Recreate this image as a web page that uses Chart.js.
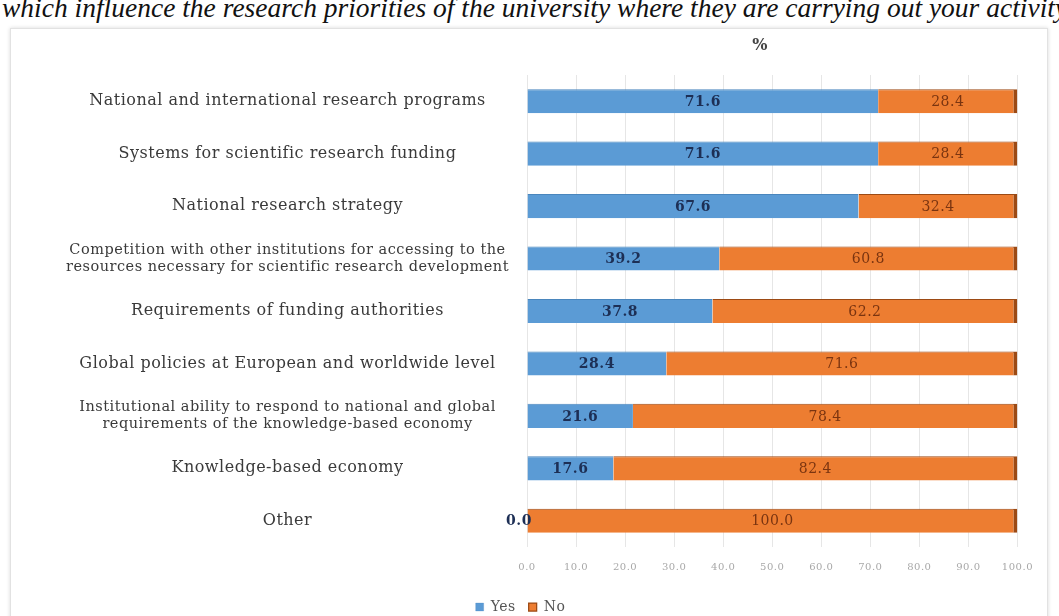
<!DOCTYPE html>
<html>
<head>
<meta charset="utf-8">
<script src="https://cdn.jsdelivr.net/npm/chart.js@4.4.0/dist/chart.umd.min.js"></script>
<style>
  html, body { margin: 0; padding: 0; background: #fff; overflow: hidden; }
  body { width: 1059px; height: 616px; position: relative; }
  .caption {
    position: absolute; left: 2px; top: -8px; white-space: nowrap; line-height: 31px;
    font-family: "Liberation Serif", serif; font-style: italic; font-size: 27.5px; color: #111;
  }
  .box {
    position: absolute; left: 10px; top: 28px; width: 1036px; height: 620px;
    border: 1px solid #e2e2e2; box-shadow: 0 0 4px rgba(0,0,0,0.15); background: #fff;
  }
  .box canvas { position: absolute; left: 0; top: 0; }
</style>
</head>
<body>
<div class="caption">which influence the research priorities of the university where they are carrying out your activity</div>
<div class="box"><canvas id="chart" width="1036" height="599"></canvas></div>
<script>
const categories = [
  "National and international research programs",
  "Systems for scientific research funding",
  "National research strategy",
  ["Competition with other institutions for accessing to the", "resources necessary for scientific research development"],
  "Requirements of funding authorities",
  "Global policies at European and worldwide level",
  ["Institutional ability to respond to national and global", "requirements of the knowledge-based economy"],
  "Knowledge-based economy",
  "Other"
];
const yesValues = [71.6, 71.6, 67.6, 39.2, 37.8, 28.4, 21.6, 17.6, 0.0];
const noValues = [28.4, 28.4, 32.4, 60.8, 62.2, 71.6, 78.4, 82.4, 100.0];
const xTicks = [0, 10, 20, 30, 40, 50, 60, 70, 80, 90, 100];

const serif = '"DejaVu Serif", "Liberation Serif", serif';

// the source picture has slightly spaced lettering
const spacing = {
  id: "spacing",
  beforeUpdate(chart) { chart.ctx.letterSpacing = "0.5px"; },
  beforeDraw(chart) { chart.ctx.letterSpacing = "0.5px"; }
};

// value labels inside each segment and the "%" heading
const barLabels = {
  id: "barLabels",
  afterDatasetsDraw(chart) {
    const ctx = chart.ctx;
    ctx.save();
    ctx.textBaseline = "middle";
    ctx.textAlign = "center";
    chart.data.datasets.forEach((ds, di) => {
      const meta = chart.getDatasetMeta(di);
      meta.data.forEach((bar, i) => {
        const v = ds.data[i];
        let x = (bar.x + bar.base) / 2;
        if (v === 0) x = bar.base - 8;
        if (di === 0) {
          ctx.font = "bold 14px " + serif;
          ctx.fillStyle = "#1d2f55";
        } else {
          ctx.font = "14px " + serif;
          ctx.fillStyle = "#7a3410";
        }
        ctx.fillText(v.toFixed(1), x, bar.y + 1);
      });
    });
    const a = chart.chartArea;
    ctx.font = "bold 16px " + serif;
    ctx.fillStyle = "#444";
    ctx.fillText("%", (a.left + a.right) / 2 - 12, 17);
    ctx.restore();
  }
};

new Chart(document.getElementById("chart"), {
  type: "bar",
  data: {
    labels: categories,
    datasets: [
      {
        label: "Yes",
        data: yesValues,
        backgroundColor: "#5b9bd5",
        borderColor: "#4a86bd",
        borderWidth: { top: 1, bottom: 0, left: 0, right: 0 },
        categoryPercentage: 0.92,
        barPercentage: 0.5
      },
      {
        label: "No",
        data: noValues,
        backgroundColor: "#ed7d31",
        borderColor: "#9c4a14",
        borderWidth: { top: 1, bottom: 0, left: 0, right: 4 },
        categoryPercentage: 0.92,
        barPercentage: 0.5
      }
    ]
  },
  options: {
    indexAxis: "y",
    responsive: false,
    animation: false,
    layout: { padding: { top: 46, right: 21, bottom: 4, left: 4 } },
    scales: {
      x: {
        stacked: true,
        min: 0,
        max: 100,
        afterBuildTicks: (axis) => { axis.ticks = xTicks.map(v => ({ value: v })); },
        grid: { color: "#e6e6e6", drawTicks: false },
        border: { display: false },
        ticks: {
          padding: 14,
          color: "#a8a8a8",
          font: { family: serif, size: 10 },
          callback: (v) => Number(v).toFixed(1)
        }
      },
      y: {
        stacked: true,
        grid: { display: false },
        border: { display: false },
        afterFit: (axis) => { axis.width = 512; },
        ticks: {
          crossAlign: "center",
          padding: 10,
          color: "#3a3a3a",
          font: (c) => ({
            family: serif,
            size: Array.isArray(categories[c.index]) ? 14.5 : 16,
            lineHeight: 1.15
          })
        }
      }
    },
    plugins: {
      legend: {
        position: "bottom",
        labels: {
          boxWidth: 8,
          boxHeight: 8,
          padding: 13,
          color: "#555",
          font: { family: serif, size: 14 }
        }
      },
      tooltip: { enabled: false }
    }
  },
  plugins: [spacing, barLabels]
});
</script>
</body>
</html>
